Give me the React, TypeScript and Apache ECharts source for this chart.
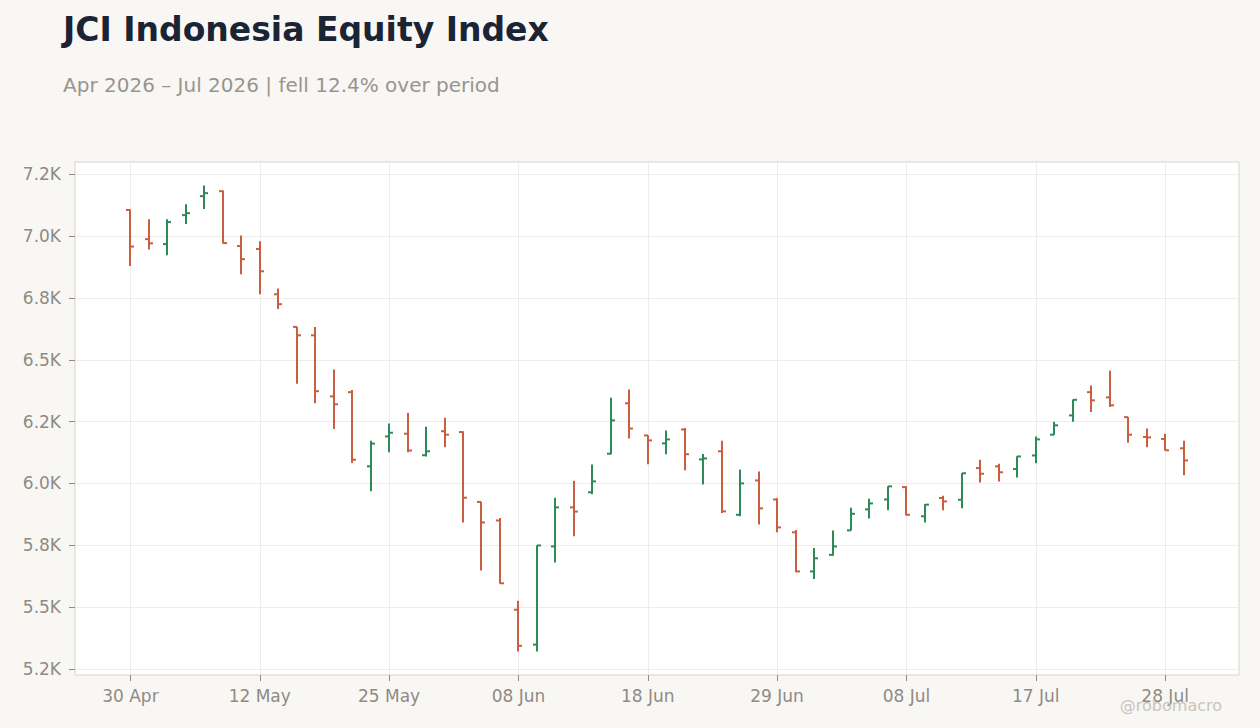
import React, { useEffect, useRef } from "react";
import * as echarts from "echarts";

const dates = [
  "30 Apr", "04 May", "05 May", "06 May", "07 May", "08 May", "11 May", "12 May",
  "13 May", "15 May", "18 May", "19 May", "20 May", "22 May", "25 May", "26 May",
  "28 May", "29 May", "02 Jun", "03 Jun", "05 Jun", "08 Jun", "09 Jun", "10 Jun",
  "11 Jun", "12 Jun", "15 Jun", "17 Jun", "18 Jun", "19 Jun", "22 Jun", "23 Jun",
  "24 Jun", "25 Jun", "26 Jun", "29 Jun", "30 Jun", "01 Jul", "02 Jul", "03 Jul",
  "06 Jul", "07 Jul", "08 Jul", "09 Jul", "10 Jul", "13 Jul", "14 Jul", "15 Jul",
  "16 Jul", "17 Jul", "20 Jul", "21 Jul", "22 Jul", "23 Jul", "24 Jul", "27 Jul",
  "28 Jul", "29 Jul",
];

const opens = [
  7106, 6988, 6968, 7085, 7162, 7182, 6960, 6948, 6765, 6633,
  6599, 6352, 6369, 6069, 6190, 6201, 6114, 6211, 6208, 5925,
  5850, 5489, 5348, 5745, 5903, 5964, 6120, 6324, 6194, 6162,
  6218, 6097, 6130, 5873, 6012, 5935, 5802, 5644, 5711, 5810,
  5895, 5935, 5985, 5867, 5941, 5934, 6062, 6069, 6058, 6113,
  6197, 6275, 6369, 6348, 6268, 6188, 6180, 6142,
];
const highs = [
  7108, 7068, 7068, 7129, 7205, 7185, 7003, 6979, 6788, 6634,
  6633, 6461, 6378, 6172, 6242, 6285, 6229, 6266, 6211, 5926,
  5860, 5525, 5750, 5942, 6011, 6076, 6346, 6380, 6195, 6214,
  6224, 6119, 6173, 6056, 6048, 5940, 5811, 5739, 5809, 5902,
  5938, 5988, 5988, 5917, 5950, 6042, 6096, 6079, 6110, 6190,
  6249, 6339, 6396, 6456, 6269, 6222, 6201, 6173,
];
const lows = [
  6879, 6946, 6923, 7049, 7110, 6970, 6846, 6765, 6705, 6403,
  6324, 6220, 6083, 5968, 6126, 6126, 6109, 6146, 5842, 5648,
  5594, 5320, 5320, 5680, 5786, 5956, 6118, 6182, 6077, 6118,
  6053, 5996, 5880, 5867, 5834, 5802, 5641, 5613, 5707, 5809,
  5858, 5891, 5871, 5842, 5891, 5899, 6004, 6008, 6024, 6081,
  6196, 6249, 6289, 6309, 6164, 6146, 6133, 6033,
];
const closes = [
  6958, 6971, 7057, 7093, 7174, 6972, 6907, 6858, 6725, 6599,
  6373, 6320, 6096, 6161, 6205, 6133, 6130, 6197, 5942, 5842,
  5596, 5343, 5749, 5903, 5886, 6008, 6255, 6222, 6174, 6178,
  6118, 6101, 5887, 6000, 5899, 5822, 5644, 5697, 5745, 5877,
  5919, 5988, 5873, 5914, 5927, 6041, 6039, 6045, 6109, 6178,
  6235, 6338, 6336, 6316, 6197, 6186, 6134, 6093,
];

const xTickIndices = [0, 7, 14, 21, 28, 35, 42, 49, 56];
const yTickValues = [5250, 5500, 5750, 6000, 6250, 6500, 6750, 7000, 7250];
const yTickLabels = ["5.2K", "5.5K", "5.8K", "6.0K", "6.2K", "6.5K", "6.8K", "7.0K", "7.2K"];

const UP = "#2e8b57";
const DOWN = "#c85f3f";
const FONT = "DejaVu Sans";

export default function App() {
  const ref = useRef<HTMLDivElement>(null);

  useEffect(() => {
    document.body.style.margin = "0";
    const chart = echarts.init(ref.current!, undefined, { renderer: "svg" });
    const data = dates.map((_, i) => [i, opens[i], highs[i], lows[i], closes[i]]);

    chart.setOption({
      animation: false,
      backgroundColor: "#f8f7f4",
      title: [
        {
          text: "JCI Indonesia Equity Index",
          left: 63,
          top: 13,
          padding: 0,
          textStyle: { fontFamily: FONT, fontSize: 33, fontWeight: "bold", color: "#1b2434" },
        },
        {
          text: "Apr 2026 – Jul 2026 | fell 12.4% over period",
          left: 63,
          top: 75,
          padding: 0,
          textStyle: { fontFamily: FONT, fontSize: 20, fontWeight: "normal", color: "#9a948e" },
        },
      ],
      graphic: [
        {
          type: "text",
          right: 38,
          bottom: 15,
          z: 100,
          style: {
            text: "@robomacro",
            fontFamily: FONT,
            fontSize: 16,
            fill: "#c9c5c0",
          },
        },
      ],
      grid: {
        left: 75,
        right: 21,
        top: 162,
        bottom: 53,
        show: true,
        backgroundColor: "#ffffff",
        borderColor: "#d9d4cc",
        borderWidth: 1,
      },
      xAxis: {
        type: "value",
        min: -3,
        max: 60,
        axisLine: { show: false, onZero: false },
        axisTick: {
          show: true,
          length: 6,
          customValues: xTickIndices,
          lineStyle: { color: "#8f8a85" },
        },
        axisLabel: {
          customValues: xTickIndices,
          formatter: (v: number) => dates[Math.round(v)] ?? "",
          fontFamily: FONT,
          fontSize: 17,
          color: "#8f8a85",
          margin: 12,
        },
        splitLine: { show: true, lineStyle: { color: "#ededed", width: 1 } },
      },
      yAxis: {
        type: "value",
        min: 5225,
        max: 7300,
        axisLine: { show: false, onZero: false },
        axisTick: {
          show: true,
          length: 6,
          customValues: yTickValues,
          lineStyle: { color: "#8f8a85" },
        },
        axisLabel: {
          customValues: yTickValues,
          formatter: (v: number) => {
            const i = yTickValues.indexOf(Math.round(v));
            return i >= 0 ? yTickLabels[i] : "";
          },
          fontFamily: FONT,
          fontSize: 17,
          color: "#8f8a85",
          margin: 14,
        },
        splitLine: { show: true, lineStyle: { color: "#ededed", width: 1 } },
      },
      series: [
        {
          type: "custom",
          data,
          encode: { x: 0, y: [1, 2, 3, 4] },
          clip: true,
          renderItem: (params: any, api: any) => {
            const x = api.value(0);
            const o = api.value(1);
            const h = api.value(2);
            const l = api.value(3);
            const c = api.value(4);
            const pH = api.coord([x, h]);
            const pL = api.coord([x, l]);
            const pO = api.coord([x, o]);
            const pC = api.coord([x, c]);
            const color = c >= o ? UP : DOWN;
            const style = { stroke: color, lineWidth: 2, lineCap: "butt" };
            const cx = Math.round(pH[0]);
            const tick = 4;
            return {
              type: "group",
              children: [
                { type: "line", shape: { x1: cx, y1: pH[1], x2: cx, y2: pL[1] }, style },
                { type: "line", shape: { x1: cx - tick, y1: pO[1], x2: cx, y2: pO[1] }, style },
                { type: "line", shape: { x1: cx, y1: pC[1], x2: cx + tick, y2: pC[1] }, style },
              ],
            };
          },
        },
      ],
    });

    return () => chart.dispose();
  }, []);

  return <div ref={ref} style={{ width: 1260, height: 728 }} />;
}
